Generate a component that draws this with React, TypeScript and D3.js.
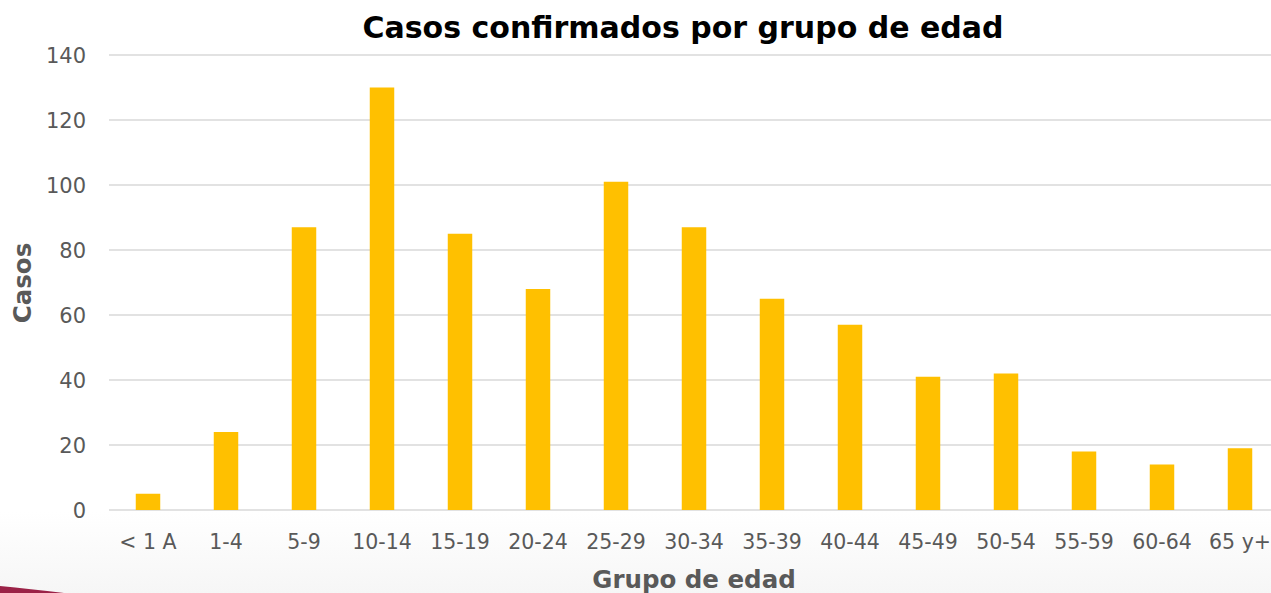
import { useEffect, useRef } from 'react';
import * as d3 from 'd3';

const grupos = ['< 1 A', '1-4', '5-9', '10-14', '15-19', '20-24', '25-29', '30-34', '35-39', '40-44', '45-49', '50-54', '55-59', '60-64', '65 y+'];
const casos = [5, 24, 87, 130, 85, 68, 101, 87, 65, 57, 41, 42, 18, 14, 19];
const yTicks = [0, 20, 40, 60, 80, 100, 120, 140];

export default function App() {
  const svgRef = useRef<SVGSVGElement>(null);

  useEffect(() => {
    const width = 1271;
    const height = 593;
    const font = "'DejaVu Sans', sans-serif";

    const svg = d3.select(svgRef.current);
    svg.selectAll('*').remove();
    svg.attr('width', width).attr('height', height);

    // fondo degradado inferior
    const defs = svg.append('defs');
    const grad = defs.append('linearGradient')
      .attr('id', 'fondo')
      .attr('x1', 0).attr('y1', 0).attr('x2', 0).attr('y2', 1);
    grad.append('stop').attr('offset', '0%').attr('stop-color', '#ffffff');
    grad.append('stop').attr('offset', '100%').attr('stop-color', '#f6f6f6');

    svg.append('rect')
      .attr('x', 0).attr('y', 0).attr('width', width).attr('height', height)
      .attr('fill', '#ffffff');
    svg.append('rect')
      .attr('x', 0).attr('y', 512).attr('width', width).attr('height', height - 512)
      .attr('fill', 'url(#fondo)');

    // franja guinda
    svg.append('path')
      .attr('d', 'M0,586 Q30,589 64,593 L0,593 Z')
      .attr('fill', '#9b2247');

    const x = d3.scaleBand<string>()
      .domain(grupos)
      .range([109, 1279])
      .paddingInner(0.686)
      .paddingOuter(0.343);

    const y = d3.scaleLinear().domain([0, 140]).range([510, 55]);

    // rejilla
    svg.append('g')
      .selectAll('line')
      .data(yTicks)
      .join('line')
      .attr('x1', 109)
      .attr('x2', width)
      .attr('y1', d => y(d))
      .attr('y2', d => y(d))
      .attr('stroke', '#d9d9d9')
      .attr('stroke-width', 1.5);

    // etiquetas eje y
    svg.append('g')
      .selectAll('text')
      .data(yTicks)
      .join('text')
      .attr('x', 86)
      .attr('y', d => y(d))
      .attr('dy', '0.36em')
      .attr('text-anchor', 'end')
      .attr('fill', '#595959')
      .style('font-family', font)
      .style('font-size', '21px')
      .text(d => d);

    // barras
    svg.append('g')
      .selectAll('rect')
      .data(casos)
      .join('rect')
      .attr('x', (d, i) => x(grupos[i])!)
      .attr('y', d => y(d))
      .attr('width', x.bandwidth())
      .attr('height', d => y(0) - y(d))
      .attr('fill', '#ffc000');

    // etiquetas eje x
    svg.append('g')
      .selectAll('text')
      .data(grupos)
      .join('text')
      .attr('x', d => x(d)! + x.bandwidth() / 2)
      .attr('y', 549)
      .attr('text-anchor', 'middle')
      .attr('fill', '#595959')
      .style('font-family', font)
      .style('font-size', '20.5px')
      .text(d => d);

    // título
    svg.append('text')
      .attr('x', 683)
      .attr('y', 38)
      .attr('text-anchor', 'middle')
      .attr('fill', '#000000')
      .style('font-family', font)
      .style('font-weight', 'bold')
      .style('font-size', '30px')
      .text('Casos confirmados por grupo de edad');

    // títulos de ejes
    svg.append('text')
      .attr('transform', 'rotate(-90)')
      .attr('x', -283)
      .attr('y', 31)
      .attr('text-anchor', 'middle')
      .attr('fill', '#595959')
      .style('font-family', font)
      .style('font-weight', 'bold')
      .style('font-size', '24.5px')
      .text('Casos');

    svg.append('text')
      .attr('x', 694)
      .attr('y', 588)
      .attr('text-anchor', 'middle')
      .attr('fill', '#595959')
      .style('font-family', font)
      .style('font-weight', 'bold')
      .style('font-size', '24.5px')
      .text('Grupo de edad');
  }, []);

  return <svg ref={svgRef} style={{ position: 'absolute', left: 0, top: 0, display: 'block' }} />;
}
